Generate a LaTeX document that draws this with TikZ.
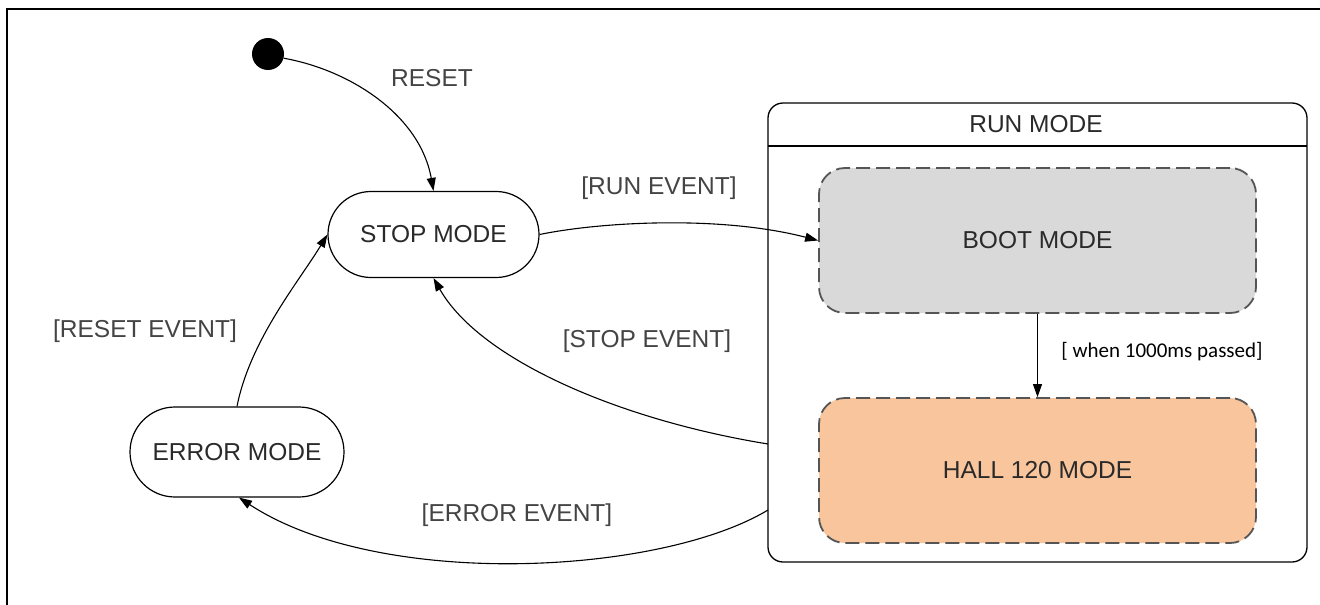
\documentclass[tikz,border=0pt]{standalone}
\usepackage{fontspec}
\setmainfont{Liberation Sans}
\newfontfamily\calfont{Carlito}
\usetikzlibrary{arrows.meta,shapes.misc}
\definecolor{bootgray}{HTML}{D9D9D9}
\definecolor{hallpeach}{HTML}{F8C59C}
\definecolor{dashgray}{HTML}{555555}
\definecolor{labelgray}{HTML}{2A2A2A}
\definecolor{evgray}{HTML}{444444}
\begin{document}
\begin{tikzpicture}[x=1pt,y=-1pt,
  lbl/.style={font=\fontsize{24.5}{28}\selectfont, text=evgray, inner sep=0pt},
  statebox/.style={draw, rounded rectangle, line width=1.2pt, minimum width=211pt, minimum height=86pt, inner sep=0pt, font=\fontsize{24.5}{28}\selectfont, text=labelgray},
  substate/.style={draw=dashgray, dash pattern=on 14pt off 6pt, line width=1.8pt, rounded corners=26pt, minimum width=437pt, minimum height=145pt, inner sep=0pt, font=\fontsize{24.5}{28}\selectfont, text=labelgray},
  conn/.style={line width=1.1pt, -{Triangle[length=13pt,width=9pt]}}
]
\useasboundingbox (0,0) rectangle (1320,605);
\fill[white] (0,0) rectangle (1320,605);
% outer frame
\draw[line width=2.8pt] (7,605) -- (7,9) -- (1320,9);

% run mode composite
\node[draw, rounded corners=15pt, line width=1.3pt, minimum width=539pt, minimum height=459pt, inner sep=0pt] (run) at (1037.5,332.5) {};
\coordinate (hl) at (768,146);
\coordinate (hr) at (1307,146);
\draw[line width=1.3pt] (hl) -- (hr);
\node[lbl, text=labelgray] (runlbl) at (1036,124) {RUN MODE};

\node[substate, fill=bootgray] (boot) at (1037.5,240.5) {BOOT MODE};
\node[substate, fill=hallpeach] (hall) at (1037.5,470.5) {HALL 120 MODE};

% states
\node[circle, fill=black, minimum size=32pt, inner sep=0pt] (init) at (268,54) {};
\node[statebox] (stop) at (433.5,234.5) {STOP MODE};
\node[statebox, minimum width=214pt, minimum height=90pt] (error) at (237,452) {ERROR MODE};

\coordinate (rs) at (768,444);
\coordinate (re) at (768,510);

% connectors
\draw[conn] (init.-15) .. controls (350,70) and (420,115) .. (stop.north);
\draw[conn] (stop.east) .. controls (600,222) and (720,215) .. (boot.west);
\draw[conn] (rs) .. controls (620,420) and (480,360) .. (stop.south);
\draw[conn] (re) .. controls (660,575) and (380,590) .. ([xshift=2pt]error.south);
\draw[conn] (error.north) .. controls (250,340) and (300,280) .. (stop.west);
\draw[conn] (boot.south) -- (hall.north);

% labels
\node[lbl] (lreset) at (432,78) {RESET};
\node[lbl] (lrun) at (659,188) {[RUN EVENT]};
\node[lbl] (lstop) at (647,341) {[STOP EVENT]};
\node[lbl] (lreev) at (145,331) {[RESET EVENT]};
\node[lbl] (lerr) at (517,515) {[ERROR EVENT]};
\node[font=\calfont\fontsize{21}{25}\selectfont, inner sep=0pt] (lwhen) at (1162,352) {[ when 1000ms passed]};
\end{tikzpicture}
\end{document}
